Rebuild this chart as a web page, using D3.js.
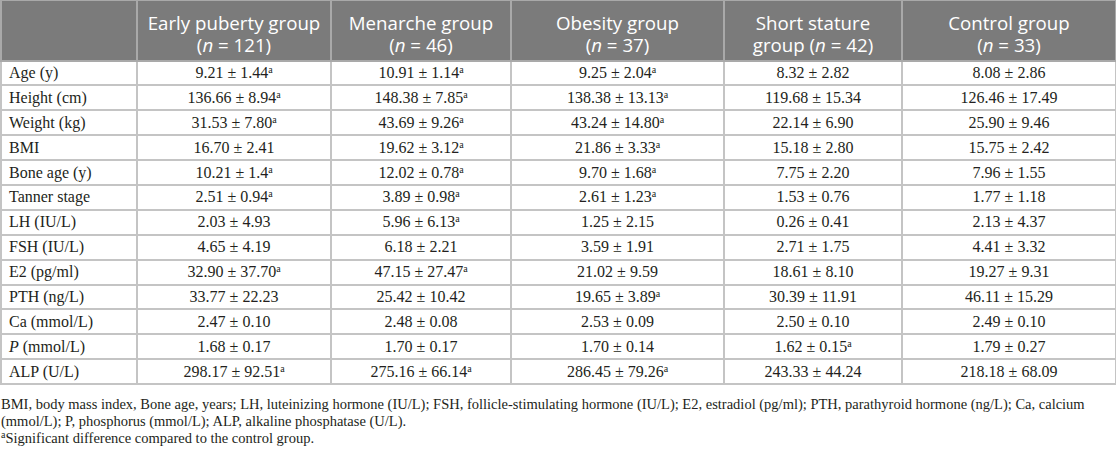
<!DOCTYPE html>
<html>
<head>
<meta charset="utf-8">
<script src="https://cdn.jsdelivr.net/npm/d3@7"></script>
<style>
  body { margin: 0; background: #fff; }
  table { border-collapse: collapse; table-layout: fixed; width: 1115px; }
  tr { height: 24.9px; }
  th { background: #7b7b7b; color: #fff; font-family: "Open Sans", sans-serif; font-weight: normal;
       font-size: 18.7px; line-height: 22.3px; height: 60px; padding: 11px 4px 0 4px; border: 2px solid #a9a9a9;
       border-top: 1px solid #a9a9a9; box-sizing: border-box; vertical-align: top; }
  th .hl { height: 22.3px; overflow: visible; white-space: nowrap; }
  th .hl span, th .hl i { display: inline-block; height: 22.3px; line-height: 22.3px; }
  td { font-family: "Liberation Serif", "Times New Roman", Times, serif; font-size: 16px;
       padding: 0; border: 2px solid #c4c4c4; text-align: center; color: #231f20; }
  td.lab { text-align: left; padding-left: 7px; }
  sup { font-size: 10px; line-height: 0; vertical-align: 5px; }
  .note { font-family: "Liberation Serif", "Times New Roman", Times, serif; font-size: 14.5px;
          line-height: 17px; color: #231f20; margin-top: 11px; padding-left: 1px; white-space: nowrap; }
</style>
</head>
<body>
<table id="t"></table>
<div class="note" id="note"></div>
<script>
const groups = ["Early puberty group", "Menarche group", "Obesity group", "Short stature group", "Control group"]
const nSizes = [121, 46, 37, 42, 33]
const rowLabels = ["Age (y)", "Height (cm)", "Weight (kg)", "BMI", "Bone age (y)", "Tanner stage",
  "LH (IU/L)", "FSH (IU/L)", "E2 (pg/ml)", "PTH (ng/L)", "Ca (mmol/L)", "P (mmol/L)", "ALP (U/L)"]

const earlyPuberty = ["9.21 ± 1.44", "136.66 ± 8.94", "31.53 ± 7.80", "16.70 ± 2.41", "10.21 ± 1.4", "2.51 ± 0.94",
  "2.03 ± 4.93", "4.65 ± 4.19", "32.90 ± 37.70", "33.77 ± 22.23", "2.47 ± 0.10", "1.68 ± 0.17", "298.17 ± 92.51"]
const menarche = ["10.91 ± 1.14", "148.38 ± 7.85", "43.69 ± 9.26", "19.62 ± 3.12", "12.02 ± 0.78", "3.89 ± 0.98",
  "5.96 ± 6.13", "6.18 ± 2.21", "47.15 ± 27.47", "25.42 ± 10.42", "2.48 ± 0.08", "1.70 ± 0.17", "275.16 ± 66.14"]
const obesity = ["9.25 ± 2.04", "138.38 ± 13.13", "43.24 ± 14.80", "21.86 ± 3.33", "9.70 ± 1.68", "2.61 ± 1.23",
  "1.25 ± 2.15", "3.59 ± 1.91", "21.02 ± 9.59", "19.65 ± 3.89", "2.53 ± 0.09", "1.70 ± 0.14", "286.45 ± 79.26"]
const shortStature = ["8.32 ± 2.82", "119.68 ± 15.34", "22.14 ± 6.90", "15.18 ± 2.80", "7.75 ± 2.20", "1.53 ± 0.76",
  "0.26 ± 0.41", "2.71 ± 1.75", "18.61 ± 8.10", "30.39 ± 11.91", "2.50 ± 0.10", "1.62 ± 0.15", "243.33 ± 44.24"]
const control = ["8.08 ± 2.86", "126.46 ± 17.49", "25.90 ± 9.46", "15.75 ± 2.42", "7.96 ± 1.55", "1.77 ± 1.18",
  "2.13 ± 4.37", "4.41 ± 3.32", "19.27 ± 9.31", "46.11 ± 15.29", "2.49 ± 0.10", "1.79 ± 0.27", "218.18 ± 68.09"]

// 1 = significant vs control (superscript a)
const sigEarly    = [1, 1, 1, 0, 1, 1, 0, 0, 1, 0, 0, 0, 1]
const sigMenarche = [1, 1, 1, 1, 1, 1, 1, 0, 1, 0, 0, 0, 1]
const sigObesity  = [1, 1, 1, 1, 1, 1, 0, 0, 0, 1, 0, 0, 1]
const sigShort    = [0, 0, 0, 0, 0, 0, 0, 0, 0, 0, 0, 1, 0]
const sigControl  = [0, 0, 0, 0, 0, 0, 0, 0, 0, 0, 0, 0, 0]

const colWidths = [136, 194, 180, 213, 178, 214]

const values = [earlyPuberty, menarche, obesity, shortStature, control]
const sigs = [sigEarly, sigMenarche, sigObesity, sigShort, sigControl]

const table = d3.select("#t")
table.append("colgroup").selectAll("col").data(colWidths).join("col")
  .style("width", d => d + "px")

const head = table.append("thead").append("tr")
head.append("th")
head.selectAll("th.g").data(groups).join("th").attr("class", "g")
  .html((d, i) => {
    const n = `<span>(</span><i>n</i><span>&nbsp;= ${nSizes[i]})</span>`
    if (d === "Short stature group")
      return `<div class="hl"><span>Short stature</span></div><div class="hl"><span>group&nbsp;</span>${n}</div>`
    return `<div class="hl"><span>${d}</span></div><div class="hl">${n}</div>`
  })

const rows = table.append("tbody").selectAll("tr").data(rowLabels).join("tr")
rows.append("td").attr("class", "lab")
  .html(d => d.startsWith("P ") ? "<i>P</i>" + d.slice(1) : d)
rows.each(function (lab, r) {
  d3.select(this).selectAll("td.v").data(values.map((v, g) => ({ v: v[r], s: sigs[g][r] })))
    .join("td").attr("class", "v")
    .html(d => d.v + (d.s ? "<sup>a</sup>" : ""))
})

const notes = [
  "BMI, body mass index, Bone age, years; LH, luteinizing hormone (IU/L); FSH, follicle-stimulating hormone (IU/L); E2, estradiol (pg/ml); PTH, parathyroid hormone (ng/L); Ca, calcium",
  "(mmol/L); P, phosphorus (mmol/L); ALP, alkaline phosphatase (U/L).",
  "<sup>a</sup>Significant difference compared to the control group."
]
d3.select("#note").selectAll("div").data(notes).join("div").html(d => d)
</script>
</body>
</html>
